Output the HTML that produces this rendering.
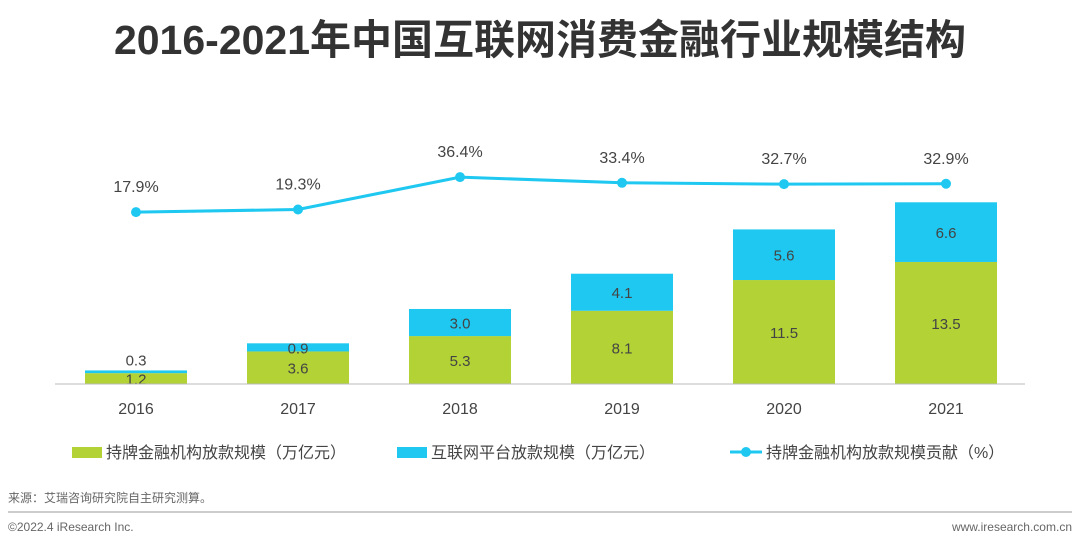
<!DOCTYPE html>
<html><head><meta charset="utf-8"><style>
body{margin:0;background:#fff;}
svg text{font-family:"Liberation Sans","Noto Sans CJK SC",sans-serif;}
</style></head><body>
<svg width="1080" height="547" viewBox="0 0 1080 547">
<text x="540" y="54" text-anchor="middle" font-size="41" font-weight="bold" fill="#333">2016-2021年中国互联网消费金融行业规模结构</text>
<g id="bars"></g>
<line x1="55" y1="384" x2="1025" y2="384" stroke="#bbb" stroke-width="1"/>
<g id="line"></g>
<g>
<rect x="72" y="447" width="30" height="11" fill="#b2d235"/>
<text x="106" y="458" font-size="16" fill="#444">持牌金融机构放款规模（万亿元）</text>
<rect x="397" y="447" width="30" height="11" fill="#1ec8f0"/>
<text x="431" y="458" font-size="16" fill="#444">互联网平台放款规模（万亿元）</text>
<line x1="730" y1="452" x2="762" y2="452" stroke="#1ec8f0" stroke-width="3"/>
<circle cx="746" cy="452" r="5" fill="#1ec8f0"/>
<text x="766" y="458" font-size="16" fill="#444">持牌金融机构放款规模贡献（%）</text>
</g>
<text x="8" y="502" font-size="12" fill="#666">来源：艾瑞咨询研究院自主研究测算。</text>
<line x1="8" y1="512" x2="1072" y2="512" stroke="#999" stroke-width="1"/>
<text x="8" y="531" font-size="12" fill="#666">©2022.4 iResearch Inc.</text>
<text x="1072" y="531" font-size="12" fill="#666" text-anchor="end">www.iresearch.com.cn</text>
</svg>
<script>
const years=["2016","2017","2018","2019","2020","2021"];
const licensed=[1.2,3.6,5.3,8.1,11.5,13.5];
const platform=[0.3,0.9,3.0,4.1,5.6,6.6];
const share=[17.9,19.3,36.4,33.4,32.7,32.9];
const NS="http://www.w3.org/2000/svg";
const xC=i=>136+i*162;
const yV=v=>384-v*9.04;
const yP=v=>246-v*1.892;
const bars=document.getElementById('bars'),line=document.getElementById('line');
function mk(tag,attrs,parent,txt){const e=document.createElementNS(NS,tag);for(const k in attrs)e.setAttribute(k,attrs[k]);if(txt!==undefined)e.textContent=txt;parent.appendChild(e);return e;}
years.forEach((y,i)=>{
 const x=xC(i)-51;
 const g=mk('rect',{x:x,y:yV(licensed[i]),width:102,height:384-yV(licensed[i]),fill:'#b2d235'},bars);
 
 
 const b=mk('rect',{x:x,y:yV(licensed[i]+platform[i]),width:102,height:yV(licensed[i])-yV(licensed[i]+platform[i]),fill:'#1ec8f0'},bars);
 
 
 const ly=(yV(licensed[i])+384)/2+6, py=(yV(licensed[i])+yV(licensed[i]+platform[i]))/2+6;
 const t1=mk('text',{x:xC(i),y:ly,'text-anchor':'middle','font-size':15,fill:'#444'},bars,licensed[i].toFixed(1));
 
 
 const t2=mk('text',{x:xC(i),y:platform[i]<0.5?yV(licensed[i]+platform[i])-5:py,'text-anchor':'middle','font-size':15,fill:'#444'},bars,platform[i].toFixed(1));
 
 
 const yl=mk('text',{x:xC(i),y:414,'text-anchor':'middle','font-size':16,fill:'#444'},bars,y);
 
 
});
const pts=share.map((v,i)=>xC(i)+','+yP(v)).join(' ');
const pl=mk('polyline',{points:pts,fill:'none',stroke:'#1ec8f0','stroke-width':3},line);


share.forEach((v,i)=>{
 const c=mk('circle',{cx:xC(i),cy:yP(v),r:5,fill:'#1ec8f0'},line);
 
 
 const t=mk('text',{x:xC(i),y:yP(v)-20,'text-anchor':'middle','font-size':16,fill:'#444'},line,v.toFixed(1)+'%');
 
 
});
</script>
</body></html>
